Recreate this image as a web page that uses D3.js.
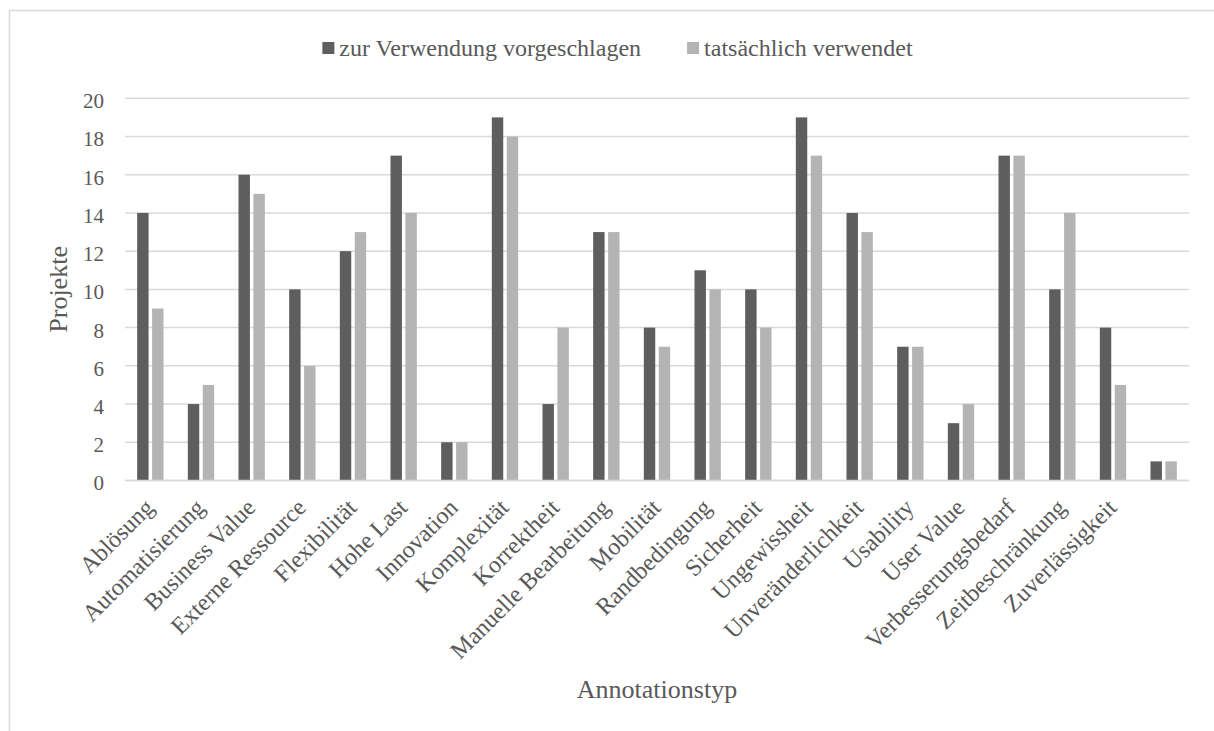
<!DOCTYPE html>
<html>
<head>
<meta charset="utf-8">
<script src="https://cdn.jsdelivr.net/npm/d3@7/dist/d3.min.js"></script>
<style>
  html, body { margin: 0; padding: 0; background: #fff; }
</style>
</head>
<body>
<svg id="chart" width="1214" height="731"></svg>
<script>
// Annotation types and how many projects used them
const categories = [
  "Ablösung", "Automatisierung", "Business Value", "Externe Ressource",
  "Flexibilität", "Hohe Last", "Innovation", "Komplexität", "Korrektheit",
  "Manuelle Bearbeitung", "Mobilität", "Randbedingung", "Sicherheit",
  "Ungewissheit", "Unveränderlichkeit", "Usability", "User Value",
  "Verbesserungsbedarf", "Zeitbeschränkung", "Zuverlässigkeit", ""
];
const seriesNames = ["zur Verwendung vorgeschlagen", "tatsächlich verwendet"];
const vorgeschlagen = [14, 4, 16, 10, 12, 17, 2, 19, 4, 13, 8, 11, 10, 19, 14, 7, 3, 17, 10, 8, 1];
const verwendet     = [9, 5, 15, 6, 13, 14, 2, 18, 8, 13, 7, 10, 8, 17, 13, 7, 4, 17, 14, 5, 1];
const yTicks = [0, 2, 4, 6, 8, 10, 12, 14, 16, 18, 20];
const colors = ["#5e5e5e", "#b4b4b4"];

const FONT = '"Liberation Serif", "Times New Roman", serif';
const TEXT_COLOR = "#595959";

const svg = d3.select("#chart");

// outer chart frame
svg.append("rect")
  .attr("x", 9.5).attr("y", 10.5)
  .attr("width", 1300).attr("height", 800)
  .attr("fill", "none").attr("stroke", "#d9d9d9").attr("stroke-width", 1.5);

const plot = { left: 125, right: 1189, top: 98.3, bottom: 480.5 };

const x0 = d3.scaleBand().domain(d3.range(categories.length))
  .range([plot.left, plot.right]).padding(0);
const bw = x0.bandwidth();
const x1 = d3.scaleBand().domain([0, 1])
  .range([bw * 0.24, bw * 0.76]).paddingInner(0.235);
const y = d3.scaleLinear().domain([0, 20]).range([plot.bottom, plot.top]);

// horizontal gridlines
svg.append("g").selectAll("line").data(yTicks).join("line")
  .attr("x1", plot.left).attr("x2", plot.right)
  .attr("y1", d => y(d)).attr("y2", d => y(d))
  .attr("stroke", "#d9d9d9").attr("stroke-width", 1.5);

// y tick labels
const yAxis = d3.axisLeft(y).tickValues(yTicks).tickSize(0).tickPadding(0);
const yg = svg.append("g").attr("transform", `translate(${plot.left - 21},0)`).call(yAxis);
yg.select(".domain").remove();
yg.attr("font-family", null).attr("font-size", null);
yg.selectAll("text")
  .style("font-family", FONT)
  .style("font-size", "21px")
  .style("fill", TEXT_COLOR)
  .attr("dy", "0.45em");

// bars
const rows = categories.map((c, i) => ({ i, vals: [vorgeschlagen[i], verwendet[i]] }));
const groups = svg.append("g").selectAll("g").data(rows).join("g")
  .attr("transform", d => `translate(${x0(d.i)},0)`);
groups.selectAll("rect").data(d => d.vals.map((v, s) => ({ v, s }))).join("rect")
  .attr("x", d => x1(d.s))
  .attr("width", x1.bandwidth())
  .attr("y", d => y(d.v))
  .attr("height", d => y(0) - y(d.v))
  .attr("fill", d => colors[d.s]);

// baseline drawn over bar bottoms
svg.append("line")
  .attr("x1", plot.left).attr("x2", plot.right)
  .attr("y1", y(0)).attr("y2", y(0))
  .attr("stroke", "#d9d9d9").attr("stroke-width", 1.5);

// rotated category labels
svg.append("g").selectAll("text").data(categories).join("text")
  .attr("transform", (d, i) => `translate(${x0(i) + bw / 2 + 5},509) rotate(-45)`)
  .attr("text-anchor", "end")
  .style("font-family", FONT)
  .style("font-size", "24px")
  .style("fill", TEXT_COLOR)
  .text(d => d);

// axis titles
svg.append("text")
  .attr("transform", `translate(67,${(plot.top + plot.bottom) / 2}) rotate(-90)`)
  .attr("text-anchor", "middle")
  .style("font-family", FONT)
  .style("font-size", "26px")
  .style("fill", TEXT_COLOR)
  .text("Projekte");

svg.append("text")
  .attr("x", (plot.left + plot.right) / 2).attr("y", 698)
  .attr("text-anchor", "middle")
  .style("font-family", FONT)
  .style("font-size", "26px")
  .style("fill", TEXT_COLOR)
  .text("Annotationstyp");

// legend, centred across the chart frame
const legend = svg.append("g");
const items = legend.selectAll("g").data(seriesNames).join("g");
items.append("rect")
  .attr("width", 12).attr("height", 12).attr("y", 42)
  .attr("fill", (d, i) => colors[i]);
items.append("text")
  .attr("x", 17).attr("y", 56)
  .style("font-family", FONT)
  .style("font-size", "24px")
  .style("fill", TEXT_COLOR)
  .text(d => d);
let cursor = 0;
items.each(function () {
  const g = d3.select(this);
  g.attr("transform", `translate(${cursor},0)`);
  cursor += 17 + g.select("text").node().getComputedTextLength() + 46;
});
const legendWidth = cursor - 46;
legend.attr("transform", `translate(${617.5 - legendWidth / 2},0)`);
</script>
</body>
</html>
